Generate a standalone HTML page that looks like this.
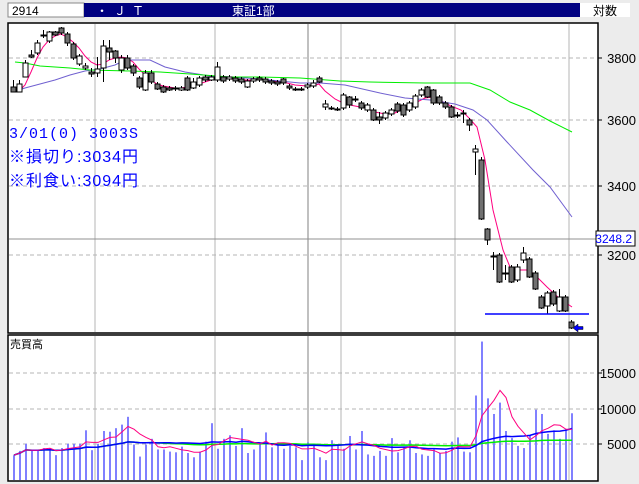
<!DOCTYPE html>
<html><head><meta charset="utf-8">
<style>
html,body{margin:0;padding:0;background:#ececec;}
body{width:639px;height:484px;overflow:hidden;position:relative;font-family:"Liberation Sans","Noto Sans CJK JP",sans-serif;}
svg{position:absolute;left:0;top:0;}
</style></head><body>
<svg id="s" width="639" height="484" xmlns="http://www.w3.org/2000/svg" font-family="Liberation Sans, Noto Sans CJK JP, sans-serif">
<rect x="0" y="0" width="639" height="484" fill="#ececec"/>
<!-- header -->
<rect x="8" y="3" width="76" height="14" fill="#fff" stroke="#888" stroke-width="1"/>
<text x="12" y="15" font-size="12" fill="#000">2914</text>
<rect x="84" y="3" width="496" height="14" fill="#000080"/>
<text x="96" y="15" font-size="12" fill="#fff" letter-spacing="6">・ＪＴ</text>
<text x="232" y="15" font-size="12" fill="#fff">東証1部</text>
<rect x="580" y="3" width="50" height="14" fill="#fff"/>
<text x="593" y="15" font-size="12" fill="#000">対数</text>
<!-- panels -->
<rect x="8" y="23" width="590" height="310" fill="#fff" stroke="#000" stroke-width="1.5"/>
<rect x="8" y="335" width="590" height="146" fill="#fff" stroke="#000" stroke-width="1.5"/>
<g id="g"></g>
</svg>
<script>
var g=document.getElementById('g'),NS='http://www.w3.org/2000/svg',h='';
function L(x1,y1,x2,y2,c,w,d){h+='<line x1="'+x1+'" y1="'+y1+'" x2="'+x2+'" y2="'+y2+'" stroke="'+c+'" stroke-width="'+(w||1)+'"'+(d?' stroke-dasharray="'+d+'"':'')+'/>';}
function T(x,y,s,sz,c,a){h+='<text x="'+x+'" y="'+y+'" font-size="'+sz+'" fill="'+c+'"'+(a?' text-anchor="'+a+'"':'')+'>'+s+'</text>';}
function P(pts,c,w){h+='<polyline fill="none" stroke="'+c+'" stroke-width="'+(w||1)+'" points="'+pts.map(function(p){return p.join(',')}).join(' ')+'"/>';}
// grids
[95,215,341,455,569].forEach(function(x){L(x,24,x,332,'#b4b4b4');L(x,336,x,480,'#b4b4b4');});
L(308,24,308,332,'#808080');L(308,336,308,480,'#808080');
[58,120,186,255].forEach(function(y){L(9,y,597,y,'#b4b4b4',1,'4,3');L(598,y,602,y,'#000');});
[373,409,444].forEach(function(y){L(9,y,597,y,'#b4b4b4',1,'4,3');L(598,y,602,y,'#000');});
L(9,239,597,239,'#909090');
T(636,63,'3800',13,'#000','end');T(636,125,'3600',13,'#000','end');T(636,191,'3400',13,'#000','end');T(636,260,'3200',13,'#000','end');
T(636,378,'15000',13,'#000','end');T(636,414,'10000',13,'#000','end');T(636,449,'5000',13,'#000','end');
h+='<rect x="596" y="231" width="39" height="15" fill="#fff" stroke="#000"/>';
T(632,243,'3248.2',12,'#0000ff','end');
// MAs price
P([[13,92],[19,91],[25,85],[31,72],[37,58],[43,47],[49,40],[55,36],[61,34],[67,37],[73,42],[79,48],[85,56],[91,62],[97,65],[103,64],[109,60],[115,58],[121,57],[127,58],[133,62],[139,69],[145,75],[151,80],[157,84],[163,86],[169,87],[175,88],[181,88],[187,87],[193,86],[199,84],[205,82],[211,80],[217,79],[229,79],[247,80],[265,80],[283,82],[295,85],[307,86],[313,86],[319,84],[325,91],[335,99],[345,104],[355,106],[365,108],[375,112],[385,114],[395,113],[405,108],[415,103],[425,98],[433,97],[441,101],[451,106],[461,110],[469,118],[477,127],[485,160],[493,210],[503,250],[510,267],[517,270],[527,270],[533,273],[541,281],[547,287],[559,298],[572,307]],'#ff0080');
P([[13,92],[25,88],[40,84],[55,80],[70,75],[85,71],[100,69],[115,65],[125,60],[140,60],[150,60],[165,67],[185,72],[210,76],[230,77],[260,79],[300,83],[320,83],[345,85],[380,93],[405,98],[430,100],[455,104],[473,110],[487,120],[507,142],[533,170],[550,187],[572,217]],'#7060d0');
P([[15,62],[25,63],[40,66],[70,68],[90,70],[130,71],[160,72],[190,74],[230,77],[260,77],[300,78],[340,81],[370,82],[425,83],[470,83],[490,90],[510,102],[530,110],[550,121],[572,132]],'#00ee00');
// candles
var C=[[87,92,80,92,1],[84,92,80,92,0],[63,77,60,77,0],[55,57,50,58,1],[43,53,40,55,0],[35,36,30,38,1],[32,41,31,43,0],[32,35,31,36,1],[28,33,27,35,1],[34,43,32,46,1],[44,58,42,60,1],[56,64,54,66,0],[66,68,63,70,0],[72,74,68,77,1],[69,73,57,77,0],[46,68,40,82,0],[48,52,40,60,1],[51,58,50,63,1],[58,70,55,73,0],[58,68,55,70,1],[66,73,64,76,1],[78,87,76,89,1],[73,90,70,91,0],[73,82,70,84,1],[84,89,82,90,1],[87,92,85,93,1],[88,90,86,91,1],[88,89,86,91,1],[88,90,86,91,0],[78,90,76,91,1],[82,88,78,89,0],[78,85,76,87,0],[77,80,75,82,1],[77,80,75,81,0],[67,80,62,82,0],[77,81,75,83,1],[77,79,75,81,0],[78,81,76,83,1],[79,82,77,84,1],[81,87,79,88,0],[79,81,77,83,0],[78,80,76,82,1],[79,82,77,84,1],[81,83,79,85,1],[82,84,80,86,1],[79,83,78,85,1],[86,88,84,90,1],[89,90,87,91,1],[89,90,87,91,1],[85,87,83,89,0],[83,86,80,88,0],[78,82,76,83,1],[104,107,100,110,0],[108,109,106,110,1],[109,110,107,111,1],[95,108,93,110,0],[97,105,96,108,1],[99,100,96,102,1],[103,108,101,110,1],[105,110,103,112,0],[110,120,108,121,1],[117,120,112,124,1],[113,118,111,120,0],[110,114,108,116,0],[104,111,102,113,1],[105,115,103,117,1],[103,110,101,112,0],[96,107,94,109,0],[90,95,88,97,0],[87,97,86,98,1],[90,103,89,105,1],[97,103,95,105,1],[103,107,101,109,1],[107,117,105,118,1],[115,116,112,118,1],[113,114,110,123,1],[120,125,118,131,1],[149,152,145,175,0],[160,219,157,220,1],[229,240,228,245,1],[256,257,252,270,1],[255,282,253,283,1],[273,274,265,280,1],[267,282,265,283,1],[267,280,264,282,0],[253,260,247,263,0],[259,277,257,278,1],[273,289,271,290,1],[297,308,295,309,1],[293,306,291,314,0],[292,304,290,306,1],[297,311,289,312,0],[297,311,295,312,1],[322,328,320,329,1]];
C.forEach(function(c,i){var x=13+6*i;L(x+0.5,c[2],x+0.5,c[3],'#000');var ht=Math.max(1,c[1]-c[0]);h+='<rect x="'+(x-2)+'" y="'+c[0]+'" width="5" height="'+ht+'" fill="'+(c[4]?'#707070':'#fff')+'" stroke="#000" stroke-width="1"/>';});
L(485,314,589,314,'#0000ff',1.5);
h+='<polygon points="573,328 578,324 578,326.5 583,326.5 583,329.5 578,329.5 578,332" fill="#0000ff" stroke="#000" stroke-width="0.5"/>';
// text
h+='<text x="9" y="138" font-size="15" fill="#0000ff" letter-spacing="1" font-family="Liberation Mono, Noto Sans CJK JP, monospace">3/01(0) 3003S</text>';
h+='<text x="9" y="162" font-size="16" fill="#0000ff" letter-spacing="1">※損切り:3034円</text>';
h+='<text x="9" y="186" font-size="16" fill="#0000ff" letter-spacing="1">※利食い:3094円</text>';
// volume
var V=[3.5,4.1,5.1,4.1,4.1,4.5,4.5,3.5,4.5,5.1,5.1,5.1,7.0,4.2,5.1,6.9,6.8,7.3,7.8,8.9,5.0,3.3,5.0,5.8,4.3,4.3,4.0,3.9,4.7,3.8,3.2,4.0,5.4,8.0,4.4,5.8,6.3,4.8,7.3,3.8,4.3,5.2,6.7,4.6,5.3,4.4,4.8,4.6,2.8,5.3,4.8,3.2,2.8,5.6,5.0,4.4,6.2,4.3,6.9,3.6,3.4,4.1,3.4,5.9,3.9,4.7,5.6,3.8,3.6,3.4,4.3,3.8,4.1,5.4,6.0,4.0,3.9,11.9,19.5,11.5,9.3,10.9,6.9,5.9,4.8,4.5,6.2,9.9,9.3,6.5,7.0,5.8,7.1,9.4];
var k=7.1;
V.forEach(function(v,i){var x=13+6*i,hh=v*k;h+='<rect x="'+x+'" y="'+(480-hh)+'" width="2" height="'+hh+'" fill="#8080ff"/>';});
function ma(n){var out=[];for(var i=0;i<V.length;i++){var s=0,c=0;for(var j=Math.max(0,i-n+1);j<=i;j++){s+=V[j];c++;}out.push([13+6*i+1,(480-s/c*k).toFixed(1)]);}return out;}
P(ma(75),'#00ee00',1.5);P(ma(25),'#0000ff',1.5);P(ma(5),'#ff0080',1);
T(10,348,'売買高',11,'#000');
g.innerHTML=h;
</script>
</body></html>
